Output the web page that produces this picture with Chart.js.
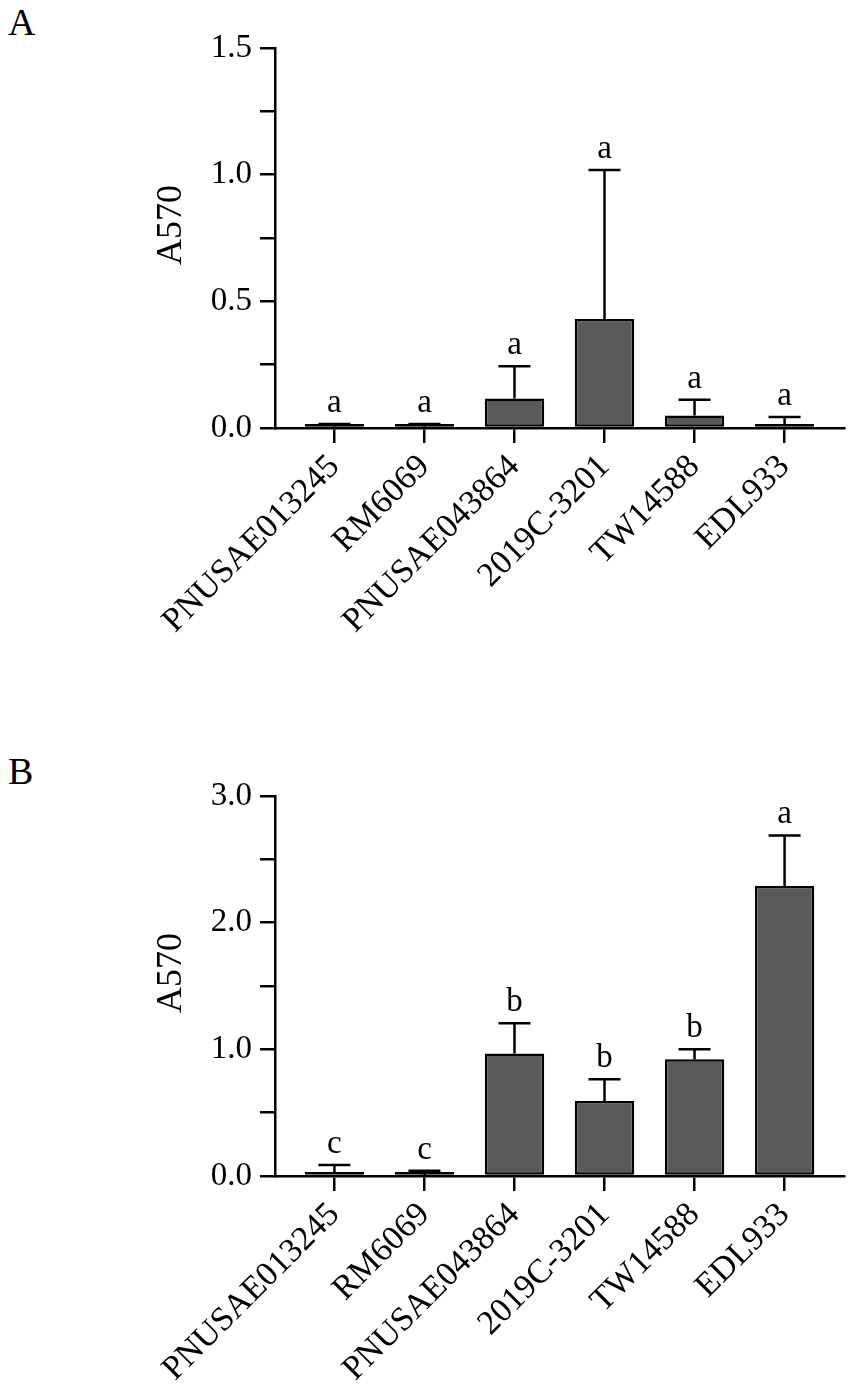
<!DOCTYPE html>
<html>
<head>
<meta charset="utf-8">
<script src="https://cdn.jsdelivr.net/npm/chart.js@4"></script>
<style>
  body { margin: 0; background: #fff; width: 851px; height: 1391px; position: relative; overflow: hidden; }
  .panel { position: absolute; left: 0; width: 851px; }
  .tag { position: absolute; left: 8px; font: 38px 'Liberation Serif', serif; line-height: 1; color: #000; }
</style>
</head>
<body>
<div class="tag" style="top:3px">A</div>
<div class="tag" style="top:752px">B</div>
<div class="panel" style="top:0;height:700px"><canvas id="chartA"></canvas></div>
<div class="panel" style="top:748px;height:643px"><canvas id="chartB"></canvas></div>
<script>
// Strains (same order in both panels)
const strains = ['PNUSAE013245', 'RM6069', 'PNUSAE043864', '2019C-3201', 'TW14588', 'EDL933'];

// Panel A
const meanA = [0.005, 0.005, 0.116, 0.430, 0.049, 0.009];
const sdA = [0.011, 0.011, 0.128, 0.588, 0.063, 0.034];
const lettersA = ['a', 'a', 'a', 'a', 'a', 'a'];
const yTicksA = [0, 0.5, 1.0, 1.5];

// Panel B
const meanB = [0.029, 0.008, 0.968, 0.592, 0.921, 2.289];
const sdB = [0.058, 0.034, 0.237, 0.171, 0.079, 0.400];
const lettersB = ['c', 'c', 'b', 'b', 'b', 'a'];
const yTicksB = [0, 1.0, 2.0, 3.0];

const yTitle = 'A570';
const serif = 'Liberation Serif';

// upper error bars, significance letters and the y title
const errorBars = {
    id: 'errorBars',
    afterDatasetsDraw(chart, args, opts) {
        const ctx = chart.ctx;
        const y = chart.scales.y;
        const meta = chart.getDatasetMeta(0);
        ctx.save();
        ctx.strokeStyle = '#000';
        ctx.lineWidth = 2.5;
        ctx.fillStyle = '#000';
        ctx.font = '33px "' + serif + '"';
        ctx.textAlign = 'center';
        ctx.textBaseline = 'alphabetic';
        meta.data.forEach((bar, i) => {
            const base = y.getPixelForValue(opts.means[i]);
            const top = y.getPixelForValue(opts.means[i] + opts.sds[i]);
            ctx.beginPath();
            ctx.moveTo(bar.x, base);
            ctx.lineTo(bar.x, top);
            ctx.moveTo(bar.x - 16, top);
            ctx.lineTo(bar.x + 16, top);
            ctx.stroke();
            ctx.fillText(opts.letters[i], bar.x, top - 12);
        });

        // axis title, sitting a little above the middle like the original
        const area = chart.chartArea;
        ctx.translate(172, (area.top + area.bottom) / 2 - 13);
        ctx.rotate(-Math.PI / 2);
        ctx.font = '36px "' + serif + '"';
        ctx.textBaseline = 'middle';
        ctx.fillText(yTitle, 0, 0);
        ctx.restore();
    }
};

function makePanel(id, means, sds, letters, yTicks, xHeight) {
    const ctx = document.getElementById(id).getContext('2d');
    return new Chart(ctx, {
        type: 'bar',
        data: {
            datasets: [{
                data: means.map((v, i) => ({ x: i, y: v })),
                backgroundColor: '#58595b',
                borderColor: '#000',
                borderWidth: 2.5,
                borderSkipped: false,
                minBarLength: 4,
                barPercentage: 0.66,
                categoryPercentage: 1.0
            }]
        },
        options: {
            responsive: true,
            maintainAspectRatio: false,
            animation: false,
            layout: { padding: { left: 130, top: 48, right: 7, bottom: 0 } },
            plugins: {
                legend: { display: false },
                tooltip: { enabled: false },
                errorBars: { means: means, sds: sds, letters: letters }
            },
            scales: {
                x: {
                    type: 'linear',
                    offset: false,
                    min: -0.66,
                    max: 5.66,
                    border: { display: true, color: '#000', width: 2.5 },
                    grid: { offset: false, drawOnChartArea: false, drawTicks: true, tickLength: 15, lineWidth: 2.5, color: '#000' },
                    ticks: {
                        stepSize: 1,
                        includeBounds: false,
                        autoSkip: false,
                        maxRotation: 45,
                        minRotation: 45,
                        padding: 4,
                        color: '#000',
                        font: { family: serif, size: 34 },
                        callback: v => strains[v] ?? ''
                    },
                    afterFit: s => { s.height = xHeight; s.paddingLeft = 0; s.paddingRight = 0; }
                },
                y: {
                    min: 0,
                    max: yTicks[yTicks.length - 1],
                    border: { display: true, color: '#000', width: 2.5 },
                    grid: { drawOnChartArea: false, drawTicks: true, tickLength: 15, lineWidth: 2.5, color: '#000' },
                    ticks: {
                        stepSize: (yTicks[1] - yTicks[0]) / 2,
                        padding: 8,
                        color: '#000',
                        font: { family: serif, size: 33 },
                        callback: v => yTicks.some(t => Math.abs(t - v) < 1e-9) ? v.toFixed(1) : ''
                    },
                    afterFit: s => { s.width = 145; s.paddingTop = 0; s.paddingBottom = 0; }
                }
            }
        },
        plugins: [errorBars]
    });
}

makePanel('chartA', meanA, sdA, lettersA, yTicksA, 272);
makePanel('chartB', meanB, sdB, lettersB, yTicksB, 215);
</script>
</body>
</html>
